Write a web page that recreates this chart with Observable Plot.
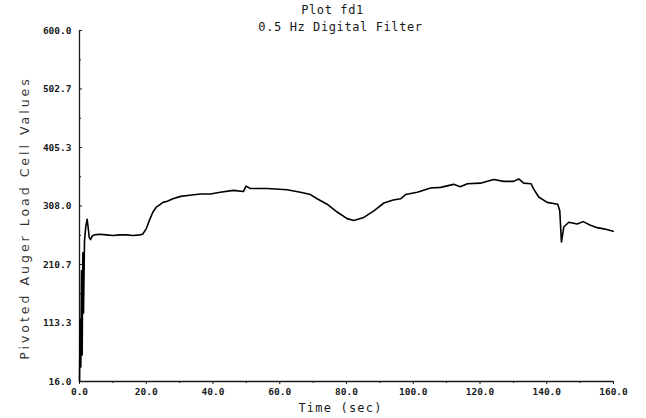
<!DOCTYPE html>
<html>
<head>
<meta charset="utf-8">
<script src="https://cdn.jsdelivr.net/npm/d3@7"></script>
<script src="https://cdn.jsdelivr.net/npm/@observablehq/plot@0.6"></script>
<style>
  html, body { margin: 0; padding: 0; background: #fff; }
  #chart svg { display: block; }
</style>
</head>
<body>
<div id="chart"></div>
<script>
const titleLines = ["Plot fd1", "0.5 Hz Digital Filter"];
const xLabel = "Time (sec)";
const yLabel = "Pivoted Auger Load Cell Values";
const xTicks = [0, 20, 40, 60, 80, 100, 120, 140, 160];
const xMinorTicks = [10, 30, 50, 70, 90, 110, 130, 150];
const yTicks = [16.0, 113.3, 210.7, 308.0, 405.3, 502.7, 600.0];
const yMinorTicks = [64.7, 162.0, 259.3, 356.7, 454.0, 551.3];

const time = [0, 0.2, 0.4, 0.6, 0.8, 1.0, 1.2, 1.5, 1.9, 2.3, 2.6, 2.9, 3.3, 3.8, 4.5, 6, 8, 10, 12, 14, 16, 18, 18.9,
  20, 21, 22, 23, 24, 25, 26.3, 28, 30.3, 33, 36.3, 39.2, 42.2, 46.1, 49.1, 49.9, 51.2, 56.2, 62.2, 66.2, 69.2,
  71.2, 74.2, 77.2, 80.2, 82.2, 85.2, 88.2, 91.2, 94, 96.2, 97.7, 101.2, 105.2, 108.2, 112.1, 114.1, 116.2,
  120.1, 124.1, 127.1, 130.1, 131.6, 133.1, 135.3, 136.1, 137.6, 140.1, 143.3, 143.9, 144.4, 145.1, 146.6,
  149.1, 150.9, 153.1, 155.1, 157.1, 159.9];
const load = [16, 120, 40, 200, 60, 230, 130, 250, 275, 286, 272, 256, 252, 258, 260, 261, 260, 259, 260, 260, 259, 260, 261,
  270, 285, 298, 306, 310, 314, 316, 320, 324, 326, 328, 328, 331, 334, 332, 341, 337, 337, 335, 331, 327,
  320, 311, 298, 287, 284, 289, 300, 313, 318, 320, 327, 331, 338, 339, 344, 340, 345,
  346, 352, 349, 349, 353, 346, 345, 336, 323, 314, 311, 300, 248, 273, 281,
  278, 282, 276, 272, 270, 266];

const data = time.map((t, i) => ({t, v: load[i]}));
const ink = "#1a1a1a";
const mono = "DejaVu Sans Mono";

const chart = Plot.plot({
  width: 646,
  height: 418,
  marginLeft: 79,
  marginRight: 33,
  marginTop: 30,
  marginBottom: 37,
  style: {fontFamily: mono, fontSize: "9.5px", color: ink, background: "#fff"},
  x: {domain: [0, 160]},
  y: {domain: [16, 600]},
  marks: [
    Plot.ruleY([16], {stroke: ink, strokeWidth: 1.3}),
    Plot.ruleX([0], {stroke: ink, strokeWidth: 1.3}),
    Plot.axisX({ticks: xTicks, tickFormat: d => d.toFixed(1), tickSize: 3, tickPadding: 4, label: null, fontWeight: "bold", fill: ink}),
    Plot.axisX({ticks: xMinorTicks, tickSize: 2, text: null, label: null}),
    Plot.axisY({ticks: yTicks, tickFormat: d => d.toFixed(1), tickSize: -3, tickPadding: 11, label: null, fontWeight: "bold", fill: ink}),
    Plot.axisY({ticks: yMinorTicks, tickSize: -2, text: null, label: null}),
    Plot.line(data, {x: "t", y: "v", stroke: "#000", strokeWidth: 1.6, curve: "linear"}),
    Plot.text([titleLines[0]], {frameAnchor: "top", dy: -25, dx: -14, fontSize: 12, fill: ink}),
    Plot.text([titleLines[1]], {frameAnchor: "top", dy: -8, dx: -6, fontSize: 12, fill: ink}),
    Plot.text([xLabel], {frameAnchor: "bottom", dy: 30, dx: -6, fontSize: 12, fill: ink}),
    Plot.text([yLabel], {frameAnchor: "left", textAnchor: "middle", dx: -55, dy: 12, rotate: -90, fontSize: 12.5, fontFamily: "DejaVu Sans", fill: "#333"})
  ]
});

d3.select(chart).selectAll("text").each(function() {
  const s = this.textContent;
  if (s === yLabel) d3.select(this).attr("letter-spacing", "3px");
  else if (s === xLabel) d3.select(this).attr("letter-spacing", "1.2px");
  else if (s === titleLines[0] || s === titleLines[1]) d3.select(this).attr("letter-spacing", "0.6px");
});

document.getElementById("chart").appendChild(chart);
</script>
</body>
</html>
